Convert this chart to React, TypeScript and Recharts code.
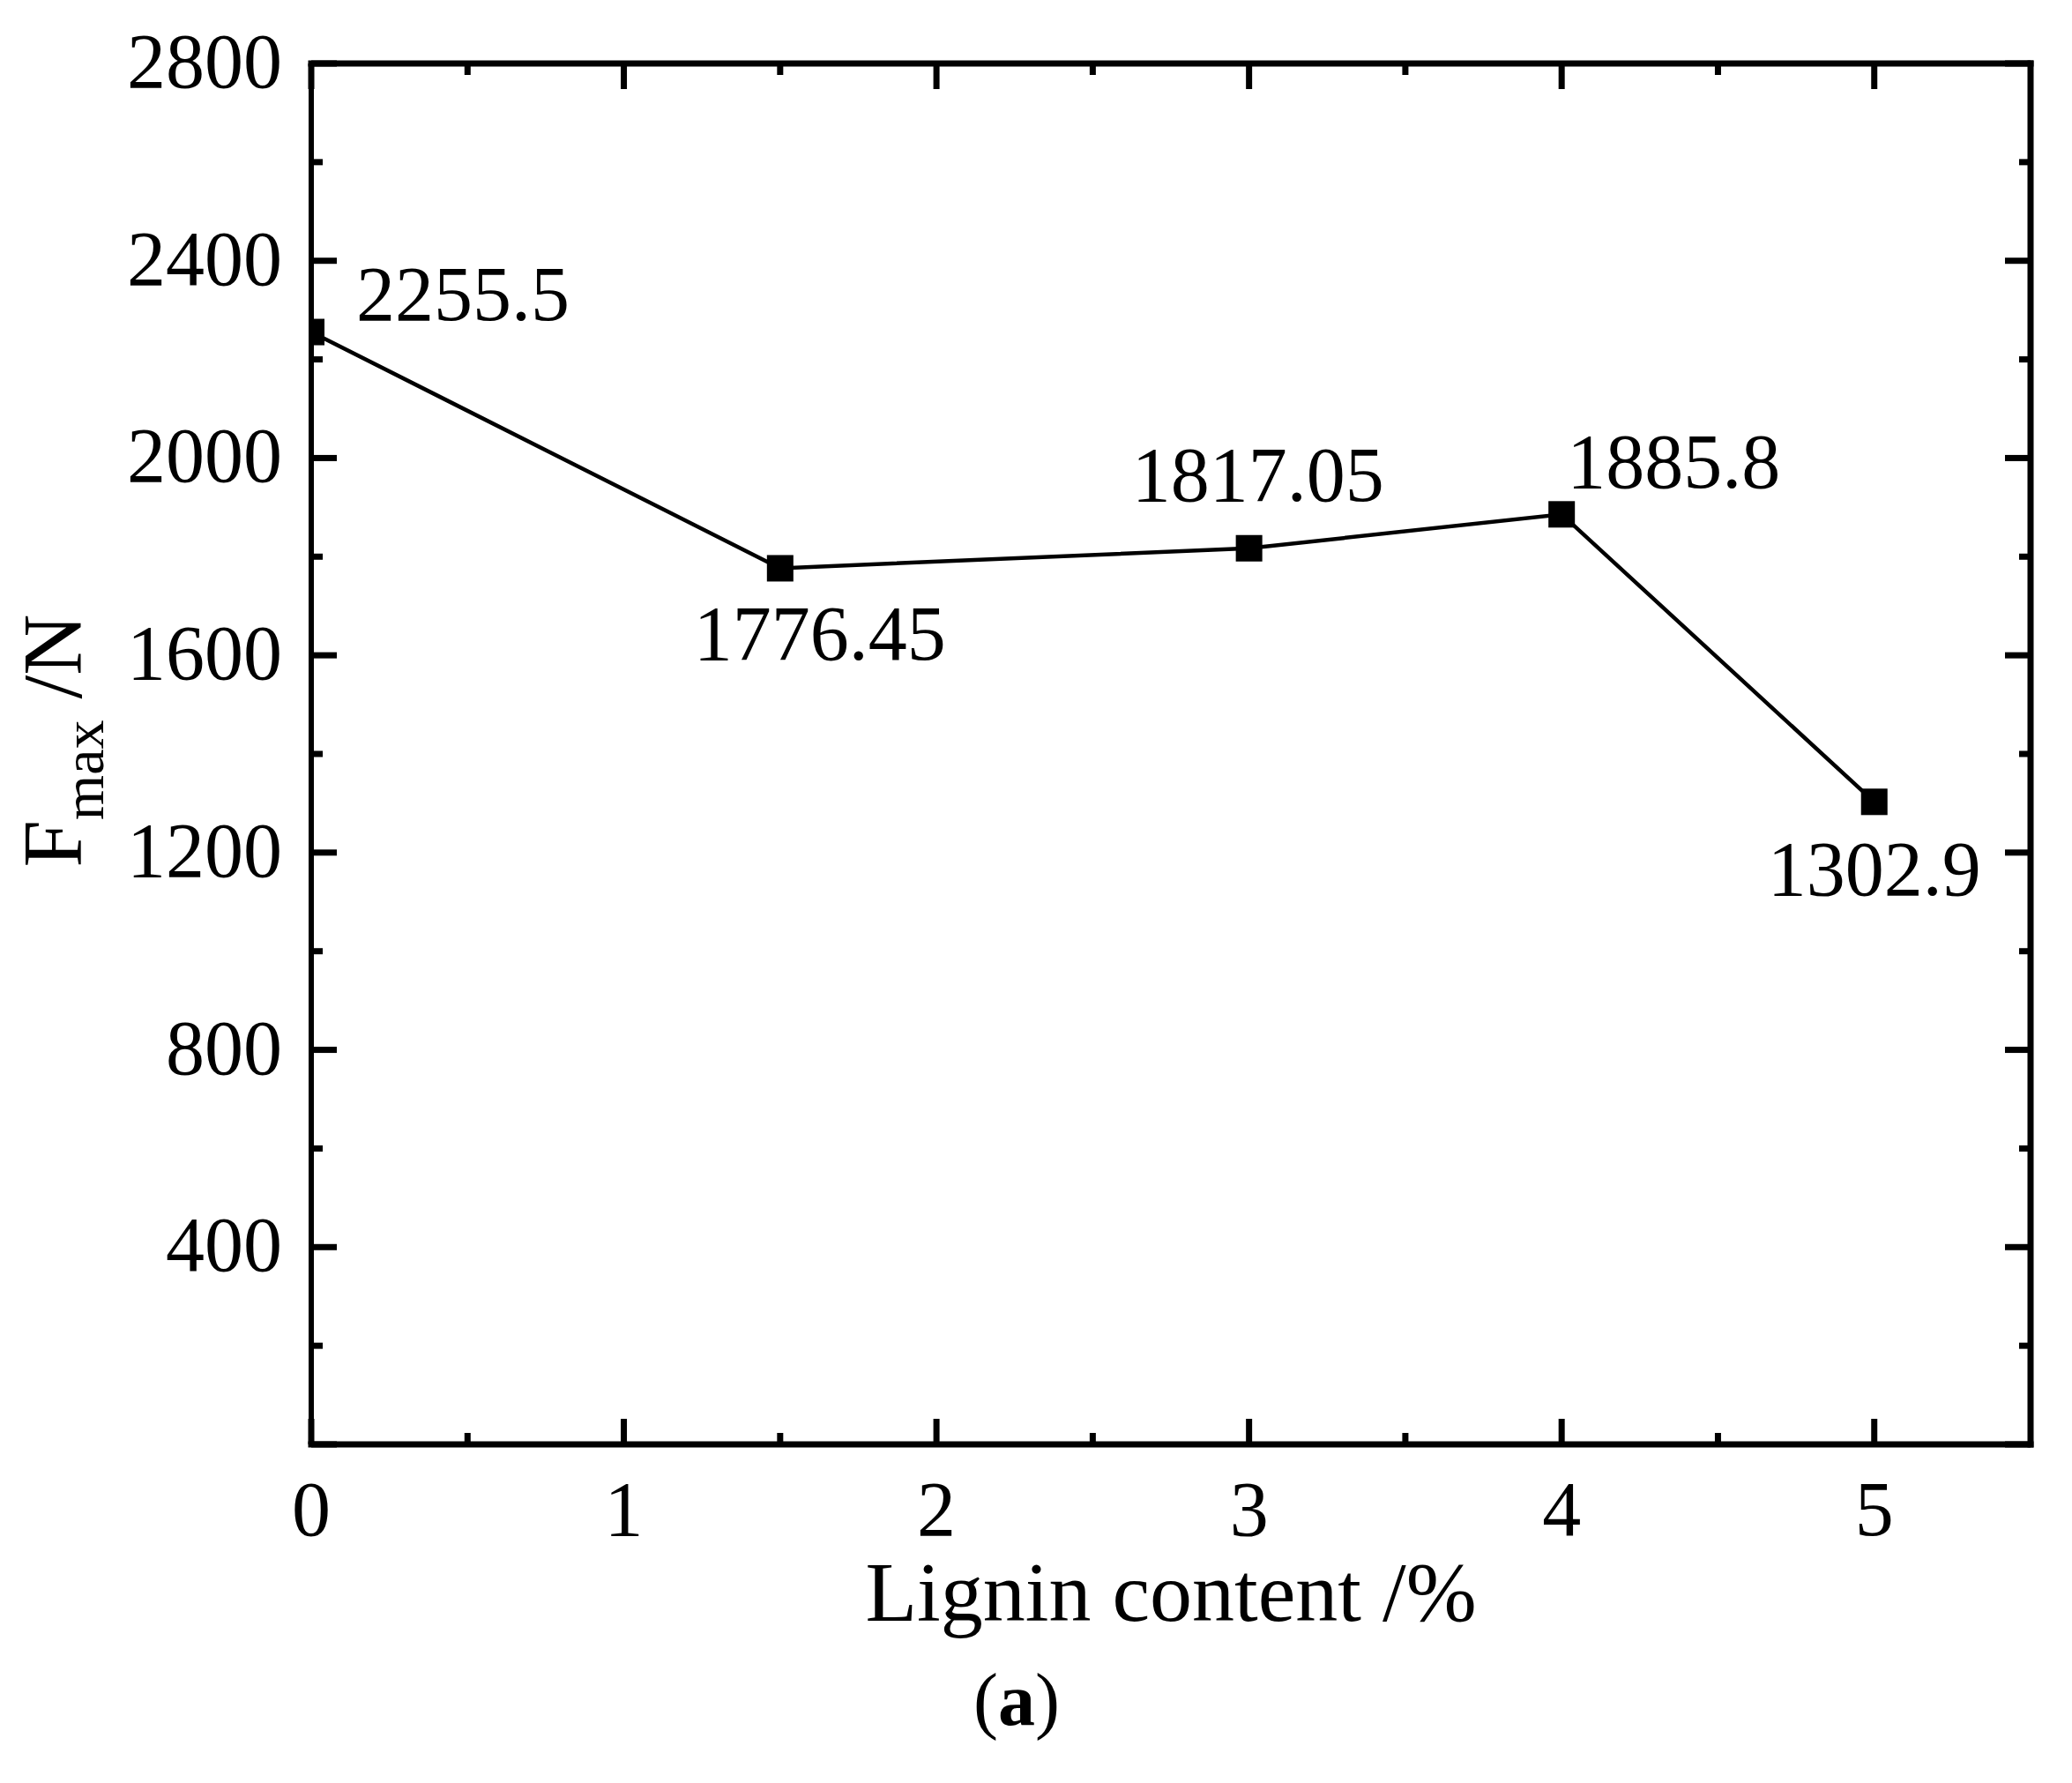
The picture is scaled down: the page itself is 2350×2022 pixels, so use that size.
import React from 'react';
import { LineChart, Line, XAxis, YAxis, LabelList, Label } from 'recharts';

// ---- data ----
const ligninContent = [0, 1.5, 3, 4, 5];
const fmaxValues = [2255.5, 1776.45, 1817.05, 1885.8, 1302.9];
const pointLabels = ['2255.5', '1776.45', '1817.05', '1885.8', '1302.9'];

const xTicks = [0, 0.5, 1, 1.5, 2, 2.5, 3, 3.5, 4, 4.5, 5];
const xTickLabels = [0, 1, 2, 3, 4, 5];
const yTicks = [0, 200, 400, 600, 800, 1000, 1200, 1400, 1600, 1800, 2000, 2200, 2400, 2600, 2800];
const yTickLabels = [400, 800, 1200, 1600, 2000, 2400, 2800];
const xDomain = [0, 5.5];
const yDomain = [0, 2800];

const xTitle = 'Lignin content /%';
const panelTag = 'a';

// ---- styling / placement (not data) ----
const FONT = "'Times New Roman', 'Liberation Serif', serif";
const W = 2334;
const H = 2000;
const TICK_FS = 88;
const MAJOR = 29;
const MINOR = 13;
const TICK_W = 7;
const AXIS_W = 7;

const labelPlacement = [
  { anchor: 'start', dx: 51, dy: -14 },
  { anchor: 'middle', dx: 45, dy: 104 },
  { anchor: 'middle', dx: 10, dy: -54 },
  { anchor: 'start', dx: 6, dy: -30 },
  { anchor: 'middle', dx: 0, dy: 106 },
];

const data = ligninContent.map((x, i) => ({ x, y: fmaxValues[i], label: pointLabels[i] }));

const isIn = (arr: number[], v: number) => arr.some((a) => Math.abs(a - v) < 1e-9);

const BottomTick = (props: any) => {
  const { x, y, payload } = props;
  const v = payload.value;
  const major = isIn(xTickLabels, v);
  return (
    <g>
      <line x1={x} x2={x} y1={y} y2={y - (major ? MAJOR : MINOR)} stroke="#000" strokeWidth={TICK_W} />
      {major && (
        <text x={x} y={y + 103} textAnchor="middle" fontSize={TICK_FS} fontFamily={FONT} fill="#000">
          {v}
        </text>
      )}
    </g>
  );
};

const TopTick = (props: any) => {
  const { x, y, payload } = props;
  const major = isIn(xTickLabels, payload.value);
  return <line x1={x} x2={x} y1={y} y2={y + (major ? MAJOR : MINOR)} stroke="#000" strokeWidth={TICK_W} />;
};

const LeftTick = (props: any) => {
  const { x, y, payload } = props;
  const v = payload.value;
  const major = v % 400 === 0;
  return (
    <g>
      <line x1={x} x2={x + (major ? MAJOR : MINOR)} y1={y} y2={y} stroke="#000" strokeWidth={TICK_W} />
      {isIn(yTickLabels, v) && (
        <text x={x - 33} y={y + 27} textAnchor="end" fontSize={TICK_FS} fontFamily={FONT} fill="#000">
          {v}
        </text>
      )}
    </g>
  );
};

const RightTick = (props: any) => {
  const { x, y, payload } = props;
  const major = payload.value % 400 === 0;
  return <line x1={x} x2={x - (major ? MAJOR : MINOR)} y1={y} y2={y} stroke="#000" strokeWidth={TICK_W} />;
};

const SquareDot = (props: any) => {
  const { cx, cy, index } = props;
  if (cx == null || cy == null) return null;
  return <rect key={`dot-${index}`} x={cx - 15} y={cy - 15} width={30} height={30} fill="#000" />;
};

const PointLabel = (props: any) => {
  const { index, value } = props;
  const px = props.x ?? props.viewBox?.x;
  const py = props.y ?? props.viewBox?.y;
  const p = labelPlacement[index] || { anchor: 'middle', dx: 0, dy: -40 };
  return (
    <text
      x={px + p.dx}
      y={py + p.dy}
      textAnchor={p.anchor}
      fontSize={TICK_FS}
      fontFamily={FONT}
      fill="#000"
    >
      {value}
    </text>
  );
};

const XTitle = (props: any) => {
  const vb = props.viewBox || { x: 345, y: 1630, width: 1950, height: 100 };
  return (
    <g>
      <text x={vb.x + vb.width / 2} y={vb.y + 200} textAnchor="middle" fontSize={96} fontFamily={FONT} fill="#000">
        {xTitle}
      </text>
      <text x={1145} y={vb.y + 318} textAnchor="middle" fontSize={84} fontFamily={FONT} fill="#000">
        (<tspan fontWeight="bold">{panelTag}</tspan>)
      </text>
    </g>
  );
};

const YTitle = () => {
  const cx = 84;
  const cy = 832;
  return (
    <text
      x={cx}
      y={cy}
      transform={`rotate(-90, ${cx}, ${cy})`}
      textAnchor="middle"
      fontSize={96}
      fontFamily={FONT}
      fill="#000"
    >
      F
      <tspan dy={25} fontSize={66}>max</tspan>
      <tspan dy={-25}> /N</tspan>
    </text>
  );
};

const axisLineStyle = { stroke: '#000', strokeWidth: AXIS_W, strokeLinecap: 'square' as const };
const leftAxisLineStyle = { stroke: '#000', strokeWidth: 6, strokeLinecap: 'square' as const };

export default function App() {
  return (
    <div style={{ width: W, height: H, background: '#fff' }}>
      <LineChart width={W} height={H} data={data} margin={{ top: 63, right: 38, bottom: 270, left: 0 }}>
        <XAxis
          xAxisId="bottom"
          dataKey="x"
          type="number"
          domain={xDomain}
          ticks={xTicks}
          allowDataOverflow
          orientation="bottom"
          height={100}
          axisLine={axisLineStyle}
          tickLine={false}
          tickSize={0}
          tickMargin={0}
          tick={<BottomTick />}
          interval={0}
        >
          <Label content={<XTitle />} />
        </XAxis>
        <XAxis
          xAxisId="top"
          dataKey="x"
          type="number"
          domain={xDomain}
          ticks={xTicks}
          allowDataOverflow
          orientation="top"
          height={1}
          axisLine={axisLineStyle}
          tickLine={false}
          tickSize={0}
          tickMargin={0}
          tick={<TopTick />}
          interval={0}
        />
        <YAxis
          yAxisId="left"
          type="number"
          domain={yDomain}
          ticks={yTicks}
          allowDataOverflow
          orientation="left"
          width={345}
          axisLine={leftAxisLineStyle}
          tickLine={false}
          tickSize={0}
          tickMargin={0}
          tick={<LeftTick />}
          interval={0}
        >
          <Label content={<YTitle />} />
        </YAxis>
        <YAxis
          yAxisId="right"
          type="number"
          domain={yDomain}
          ticks={yTicks}
          allowDataOverflow
          orientation="right"
          width={1}
          axisLine={axisLineStyle}
          tickLine={false}
          tickSize={0}
          tickMargin={0}
          tick={<RightTick />}
          interval={0}
        />
        <Line
          xAxisId="bottom"
          yAxisId="left"
          type="linear"
          dataKey="y"
          stroke="#000"
          strokeWidth={4.5}
          dot={<SquareDot />}
          activeDot={false}
          isAnimationActive={false}
        >
          <LabelList dataKey="label" content={<PointLabel />} />
        </Line>
      </LineChart>
    </div>
  );
}
